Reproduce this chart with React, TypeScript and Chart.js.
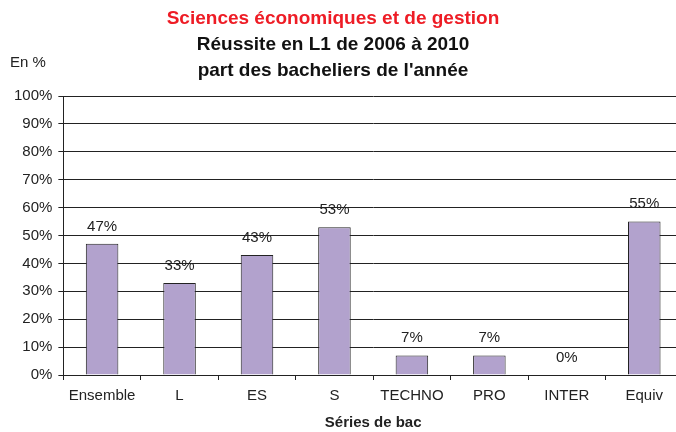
import React, { useEffect, useRef } from "react";
import { Chart, registerables } from "chart.js";

Chart.register(...registerables);

const categories = ["Ensemble", "L", "ES", "S", "TECHNO", "PRO", "INTER", "Equiv"];
const values = [47, 33, 43, 53, 7, 7, 0, 55];
const yTicks = [0, 10, 20, 30, 40, 50, 60, 70, 80, 90, 100];
const titleLines = ["Sciences économiques et de gestion", "Réussite en L1 de 2006 à 2010", "part des bacheliers de l'année"];
const yUnitLabel = "En %";
const xAxisTitle = "Séries de bac";

const FONT = "'Liberation Sans', Arial, sans-serif";

const overlayPlugin = {
  id: "overlay",
  afterDatasetsDraw(chart: any) {
    const ctx = chart.ctx;
    ctx.save();
    // titles
    ctx.textAlign = "center";
    ctx.textBaseline = "middle";
    ctx.font = `bold 19px ${FONT}`;
    ctx.fillStyle = "#ee1c25";
    ctx.fillText(titleLines[0], 333, 19);
    ctx.fillStyle = "#111";
    ctx.fillText(titleLines[1], 333, 45);
    ctx.fillText(titleLines[2], 333, 71);
    // unit label
    ctx.textAlign = "left";
    ctx.font = `15px ${FONT}`;
    ctx.fillStyle = "#222";
    ctx.fillText(yUnitLabel, 10, 63);
    // data labels
    const meta = chart.getDatasetMeta(0);
    ctx.textAlign = "center";
    ctx.textBaseline = "bottom";
    ctx.font = `15px ${FONT}`;
    meta.data.forEach((bar: any, i: number) => {
      ctx.fillText(values[i] + "%", bar.x, bar.y - 10);
    });
    ctx.restore();
  },
};

export default function App() {
  const ref = useRef<HTMLCanvasElement | null>(null);
  useEffect(() => {
    if (!ref.current) return;
    const chart = new Chart(ref.current, {
      type: "bar",
      data: {
        labels: categories,
        datasets: [
          {
            data: values,
            backgroundColor: "#b2a2cd",
            borderColor: "#222",
            borderWidth: 1,
            barPercentage: 0.42,
            categoryPercentage: 1,
          },
        ],
      },
      options: {
        responsive: false,
        animation: false,
        layout: { padding: { top: 96, right: 7, left: 8, bottom: 0 } },
        plugins: {
          legend: { display: false },
          title: { display: false },
          tooltip: { enabled: false },
        },
        scales: {
          x: {
            offset: true,
            grid: {
              display: true,
              drawOnChartArea: false,
              offset: true,
              color: "#222",
              tickLength: 5,
            },
            border: { color: "#222", width: 1 },
            ticks: { color: "#222", font: { family: FONT, size: 15 }, padding: 7 },
            title: {
              display: true,
              text: xAxisTitle,
              color: "#222",
              font: { family: FONT, size: 15, weight: "bold" },
              padding: { top: 2, bottom: 0 },
            },
          },
          y: {
            min: 0,
            max: 100,
            afterBuildTicks(scale: any) {
              scale.ticks = yTicks.map((v) => ({ value: v }));
            },
            grid: { color: "#222", lineWidth: 1, tickLength: 5 },
            border: { color: "#222", width: 1 },
            ticks: {
              color: "#222",
              font: { family: FONT, size: 15 },
              padding: 6,
              callback: (v: any) => v + "%",
            },
          },
        },
      },
      plugins: [overlayPlugin],
    });
    return () => chart.destroy();
  }, []);
  return (
    <div style={{ position: "fixed", left: 0, top: 0, width: 690, height: 432, background: "#fff" }}>
      <canvas ref={ref} width={690} height={432} />
    </div>
  );
}
